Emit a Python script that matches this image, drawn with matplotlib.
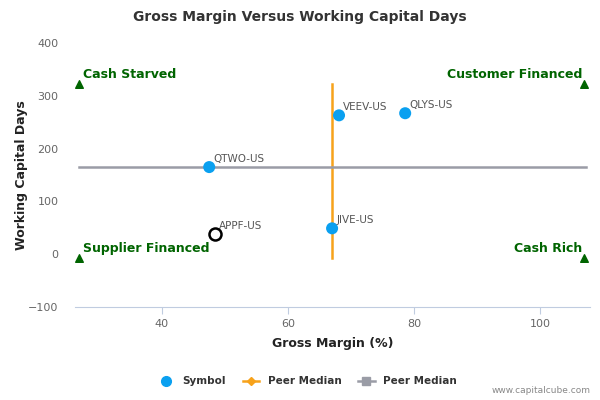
import matplotlib
matplotlib.use("Agg")
import matplotlib.pyplot as plt
from matplotlib.lines import Line2D

symbols = ["QTWO-US", "VEEV-US", "QLYS-US", "JIVE-US"]
gross_margin = [47.5, 68.1, 78.6, 67.0]
wc_days = [165, 263, 267, 49]

focus_symbol = "APPF-US"
focus_gm = 48.4
focus_wc = 38

median_gm = 67.0
median_wc = 165
median_gm_span = [-8, 322]
median_wc_span = [26.8, 107.3]

quadrants = ["Cash Starved", "Customer Financed", "Supplier Financed", "Cash Rich"]
quad_x = [26.8, 107.0, 26.8, 107.0]
quad_y = [322, 322, -8, -8]

xticks = [40, 60, 80, 100]
yticks = [-100, 0, 100, 200, 300, 400]

plt.rcParams['font.family'] = ['DejaVu Sans']
fig = plt.figure(figsize=(6, 4), dpi=100)
ax = fig.add_axes([0.125, 0.2325, 0.858, 0.66])

ax.plot([median_gm, median_gm], median_gm_span, color="#f7a21b", lw=1.8, zorder=2)
ax.plot(median_wc_span, [median_wc, median_wc], color="#9a9ca6", lw=1.8, zorder=2)

ax.scatter(gross_margin, wc_days, s=75, color="#0aa0f0", zorder=3, edgecolors="none")
for s, x, y in zip(symbols, gross_margin, wc_days):
    ax.annotate(s, (x, y), xytext=(3, 4), textcoords="offset points",
                fontsize=7.5, color="#555555")
ax.scatter([focus_gm], [focus_wc], s=75, facecolors="white", edgecolors="black",
           linewidths=1.8, zorder=4)
ax.annotate(focus_symbol, (focus_gm, focus_wc), xytext=(3, 4), textcoords="offset points",
            fontsize=7.5, color="#555555")

ax.scatter(quad_x, quad_y, marker="^", s=30, color="#006400", zorder=3)
for q, x, y in zip(quadrants, quad_x, quad_y):
    ha = "left" if x < 60 else "right"
    dx = 3 if x < 60 else -1
    ax.annotate(q, (x, y), xytext=(dx, 2.5), textcoords="offset points",
                ha=ha, va="bottom", fontsize=9, fontweight="bold", color="#006400")

ax.set_xlim(26.2, 107.9)
ax.set_ylim(-100, 400)
ax.set_xticks(xticks)
ax.set_yticks(yticks)
ax.tick_params(axis="x", colors="#c0cce0", labelcolor="#666666", labelsize=8, length=5, direction="out")
ax.tick_params(axis="y", length=0, labelcolor="#666666", labelsize=8, pad=12)
for sp in ["top", "right", "left"]:
    ax.spines[sp].set_visible(False)
ax.spines["bottom"].set_color("#c0cce0")

ax.set_xlabel("Gross Margin (%)", fontsize=9, fontweight="bold", color="#222222", labelpad=6)
ax.set_ylabel("Working Capital Days", fontsize=9, fontweight="bold", color="#222222", labelpad=0)
fig.text(0.5, 0.947, "Gross Margin Versus Working Capital Days", ha="center",
         fontsize=10, fontweight="bold", color="#333333")

handles = [
    Line2D([], [], marker="o", linestyle="none", color="#0aa0f0", markersize=7),
    Line2D([], [], marker="D", color="#f7a21b", markersize=4, lw=1.8),
    Line2D([], [], marker="s", color="#9a9ca6", markersize=6, lw=1.8),
]
fig.legend(handles, ["Symbol", "Peer Median", "Peer Median"], loc="center",
           bbox_to_anchor=(0.512, 0.047), ncol=3, frameon=False,
           prop={"size": 7.5, "weight": "bold"}, labelcolor="#333333",
           handlelength=1.6, columnspacing=1.6)
fig.text(0.985, 0.018, "www.capitalcube.com", ha="right", fontsize=6.5, color="#888888")

fig.savefig("out.png", dpi=100)
